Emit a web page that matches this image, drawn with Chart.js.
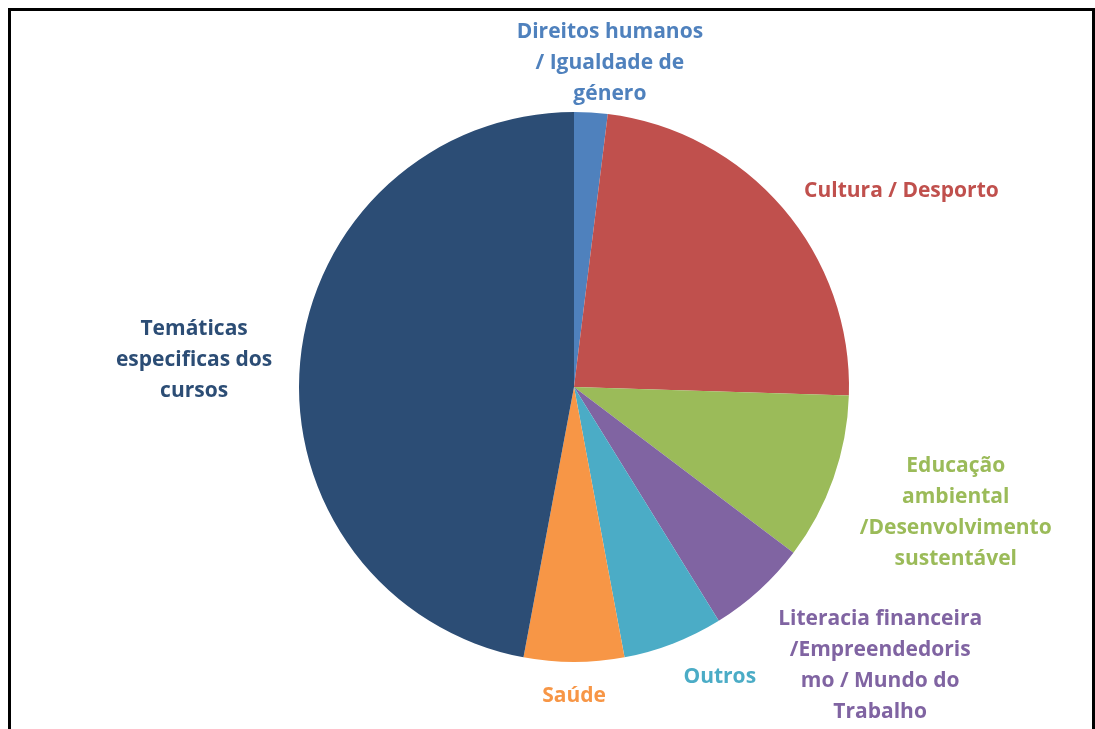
<!DOCTYPE html>
<html>
<head>
<meta charset="utf-8">
<script src="https://cdn.jsdelivr.net/npm/chart.js@4.4.1/dist/chart.umd.min.js"></script>
<style>
  html, body { margin: 0; padding: 0; background: #fff; }
  #wrap { position: relative; width: 1095px; height: 729px; overflow: hidden; }
  #frame { position: absolute; left: 8px; top: 8px; width: 1081px; height: 740px;
           border: 3px solid #000; box-sizing: content-box; pointer-events: none; }
  canvas { position: absolute; left: 0; top: 0; }
</style>
</head>
<body>
<div id="wrap">
  <canvas id="c" width="1095" height="729"></canvas>
  <div id="frame"></div>
</div>
<script>
const categories = [
  "Direitos humanos / Igualdade de género",
  "Cultura / Desporto",
  "Educação ambiental /Desenvolvimento sustentável",
  "Literacia financeira /Empreendedorismo / Mundo do Trabalho",
  "Outros",
  "Saúde",
  "Temáticas especificas dos cursos"
];
const labelLines = [
  ["Direitos humanos", "/ Igualdade de", "género"],
  ["Cultura / Desporto"],
  ["Educação", "ambiental", "/Desenvolvimento", "sustentável"],
  ["Literacia financeira", "/Empreendedoris", "mo / Mundo do", "Trabalho"],
  ["Outros"],
  ["Saúde"],
  ["Temáticas", "especificas dos", "cursos"]
];
const values = [1, 12, 5, 3, 3, 3, 24];
const colors = ["#4F81BD", "#C0504D", "#9BBB59", "#8064A2", "#4BACC6", "#F79646", "#2C4D75"];

const FONT = "bold 21px 'Open Sans', sans-serif";
const LINE_H = 31;
const GAP_X = 28;
const GAP_Y = 19;
const MIN_TOP = 17;

const outsideLabels = {
  id: 'outsideLabels',
  afterDatasetsDraw(chart) {
    const ctx = chart.ctx;
    const meta = chart.getDatasetMeta(0);
    ctx.save();
    ctx.font = FONT;
    ctx.textBaseline = 'middle';
    ctx.textAlign = 'center';
    meta.data.forEach((arc, i) => {
      const p = arc.getProps(['x', 'y', 'startAngle', 'endAngle', 'outerRadius'], true);
      const mid = (p.startAngle + p.endAngle) / 2;
      const cx = Math.cos(mid), sy = Math.sin(mid);
      const ax = p.x + (p.outerRadius + GAP_X) * cx;
      const ay = p.y + (p.outerRadius + GAP_Y) * sy;
      const lines = labelLines[i];
      const w = Math.max(...lines.map(l => ctx.measureText(l).width));
      const h = lines.length * LINE_H;
      const fx = Math.min(1, Math.max(0, 0.5 - cx * 1.5));
      const fy = sy > 0
        ? Math.max(0, 0.5 - sy * 0.67)
        : Math.min(1, 0.5 + 0.5 * Math.pow(-sy, 3));
      const left = ax - fx * w;
      const top = Math.max(MIN_TOP, ay - fy * h);
      ctx.fillStyle = colors[i];
      lines.forEach((l, k) => {
        ctx.fillText(l, left + w / 2, top + LINE_H * (k + 0.5));
      });
    });
    ctx.restore();
  }
};

new Chart(document.getElementById('c'), {
  type: 'pie',
  data: {
    labels: categories,
    datasets: [{
      data: values,
      backgroundColor: colors,
      borderWidth: 0
    }]
  },
  options: {
    responsive: false,
    animation: false,
    layout: { padding: { top: 112, bottom: 67, left: 53, right: 0 } },
    plugins: {
      legend: { display: false },
      tooltip: { enabled: false },
      title: { display: false }
    }
  },
  plugins: [outsideLabels]
});
</script>
</body>
</html>
